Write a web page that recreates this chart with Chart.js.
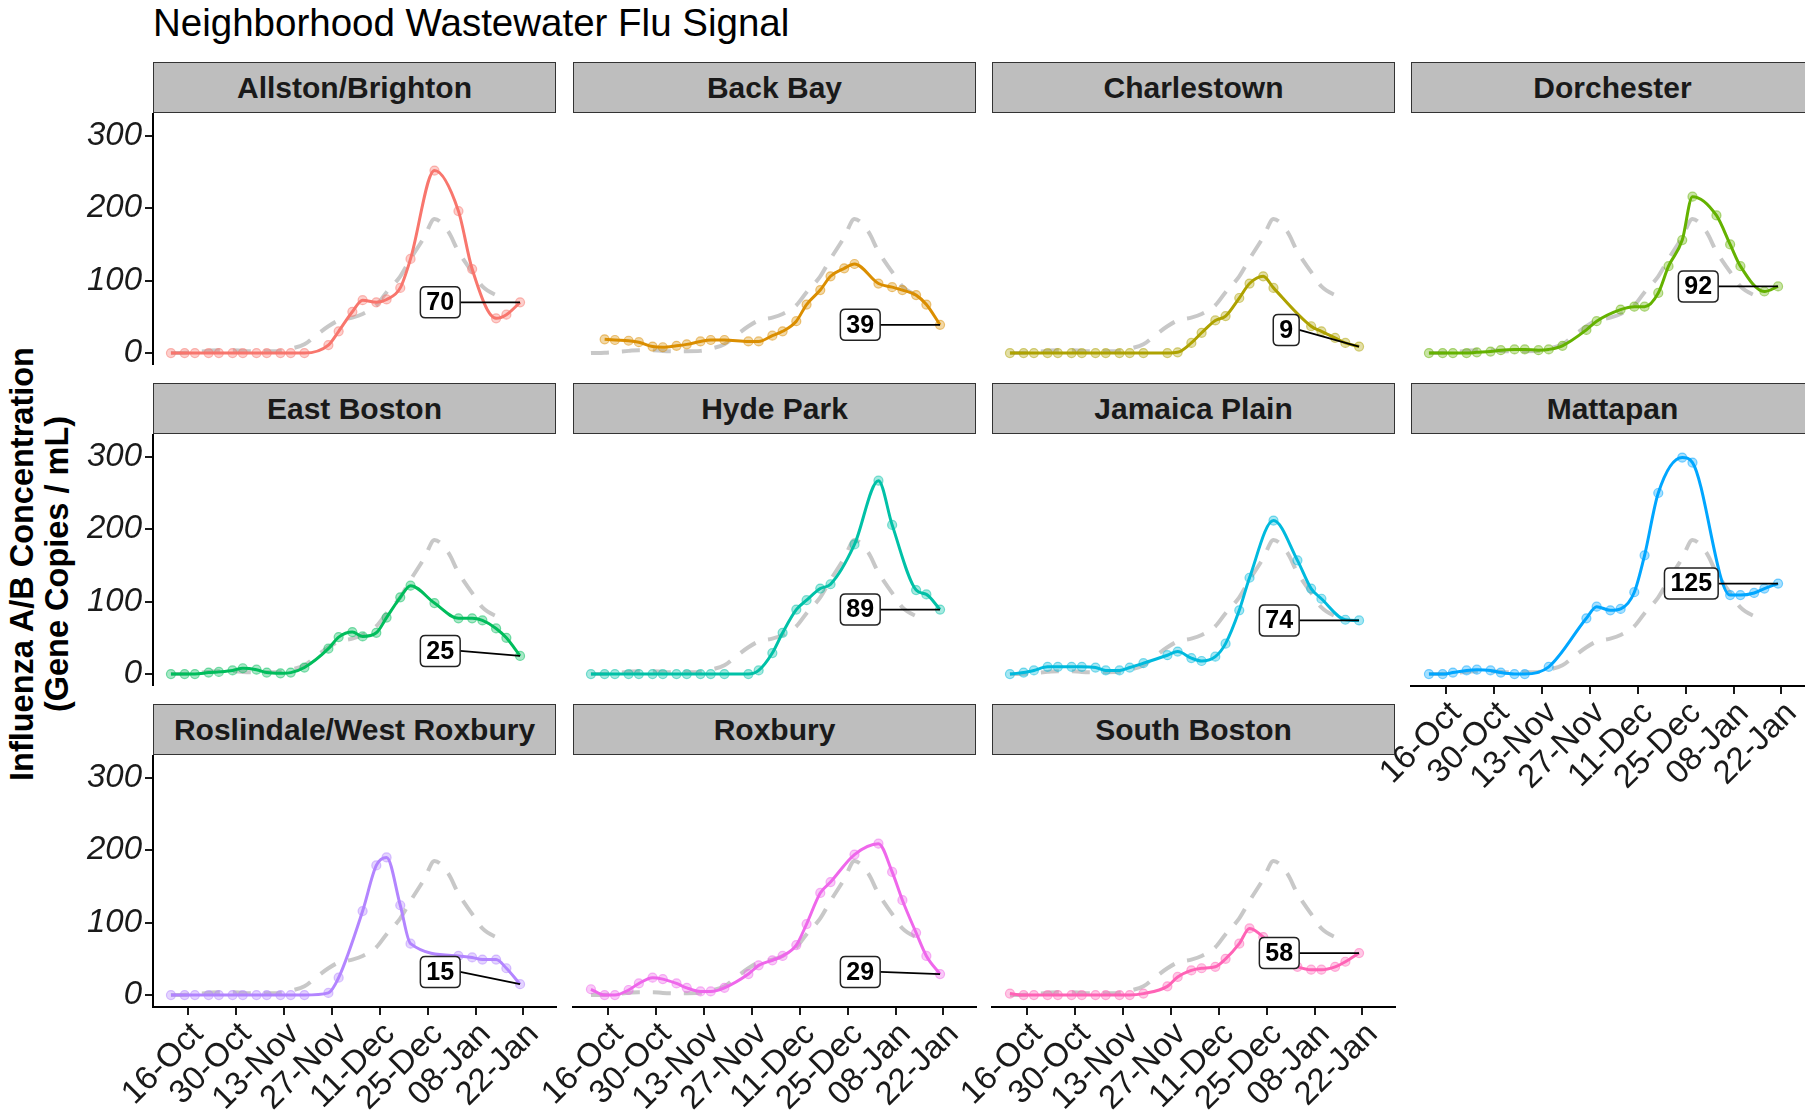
<!DOCTYPE html>
<html>
<head>
<meta charset="utf-8">
<script src="https://cdn.jsdelivr.net/npm/chart.js@4.4.0/dist/chart.umd.min.js"></script>
<style>
  html, body { margin:0; padding:0; background:#fff; }
  body { width:1805px; height:1110px; overflow:hidden; position:relative; font-family:"Liberation Sans", Arial, sans-serif; }
  .title { position:absolute; left:153px; top:4px; font-size:38.5px; line-height:38px; color:#000; white-space:nowrap; }
  .strip { position:absolute; box-sizing:border-box; background:#bebebe; border:1.5px solid #333; font-weight:bold; font-size:30px; color:#1a1a1a; display:flex; align-items:center; justify-content:center; white-space:nowrap; }
  .ytitle { position:absolute; width:640px; height:70px; left:-280px; top:529px; transform:rotate(-90deg); transform-origin:50% 50%; text-align:center; font-weight:bold; font-size:32.5px; line-height:35px; color:#000; white-space:nowrap; }
  canvas { position:absolute; }
</style>
</head>
<body>
<div class="title">Neighborhood Wastewater Flu Signal</div>
<div class="ytitle">Influenza A/B Concentration<br>(Gene Copies / mL)</div>
<script>
// ---------------- DATA ----------------
// sample days, counted in days since 16-Oct
const sampleDay = [-5, -1, 2, 6, 9, 13, 16, 20, 23, 27, 30, 34, 37, 41, 44, 48, 51, 55, 58, 62, 65, 69, 72, 76, 79, 83, 86, 90, 93, 97];
const tickDay = [0, 14, 28, 42, 56, 70, 84, 98];
const tickLabel = ['16-Oct', '30-Oct', '13-Nov', '27-Nov', '11-Dec', '25-Dec', '08-Jan', '22-Jan'];
const yTickValues = [0, 100, 200, 300];

const neighborhoods = ['Allston/Brighton', 'Back Bay', 'Charlestown', 'Dorchester', 'East Boston', 'Hyde Park',
  'Jamaica Plain', 'Mattapan', 'Roslindale/West Roxbury', 'Roxbury', 'South Boston'];

// Boston-wide smoothed signal (dashed grey reference)
const bostonAverage = [0, 0.5, 1.5, 3, 4, 4, 3, 2.5, 2.5, 3, 6, 12, 23, 37, 45, 49, 54, 66, 84, 106, 130, 160, 185, 168, 140, 112, 92, 80, 76, null];

const allstonBrighton = [0, 0, 0, 0, 0, 0, 0, 0, 0, 0, 0, 0, null, 11, 30, 57, 73, 70, 74, 90, 130, null, 252, null, 196, 116, null, 48, 53, 70];
const backBay = [null, 19, 18, 17, 15, 9, 8, 10, 12, 16, 18, 18, null, 16, 16, 24, 30, 44, 67, 87, 106, 117, 123, null, 96, 91, 87, 80, 67, 39];
const charlestown = [0, 0, 0, 0, 0, 0, 0, 0, 0, 0, 0, 0, null, 0, 1, 14, 28, 45, 51, 76, 96, 106, 90, null, null, 37, 30, 21, 14, 9];
const dorchester = [0, 0, 0, 0, 1, 2, 4, 5, 5, 4, 5, 10, null, 32, 44, null, 60, 64, 64, 83, 120, 156, 216, null, 190, 150, 120, null, 85, 92];
const eastBoston = [0, 0, 0, 2, 3, 5, 8, 6, 2, 1, 2, 9, null, 35, 51, 58, 52, 57, 78, 106, 122, null, 98, null, 77, 77, 74, 63, 50, 25];
const hydePark = [0, 0, 0, 0, 0, 0, 0, 0, 0, 0, 0, 0, null, 0, 5, 29, 57, 89, 102, 118, 124, null, 179, null, 267, 206, null, 116, 110, 89];
const jamaicaPlain = [0, 2, 5, 10, 10, 10, 10, 9, 5, 5, 9, 15, null, 26, 31, 22, 18, 24, 42, 88, 133, null, 212, null, 157, 118, 104, null, 75, 74];
const mattapan = [0, 0, 2, 5, 6, 5, 2, 0, 0, null, 10, null, null, 77, 93, 88, 90, 113, 164, 250, null, 299, 292, null, null, 109, 109, 112, 118, 125];
const roslindaleWestRoxbury = [0, 0, 0, 0, 0, 0, 0, 0, 0, 0, 0, 0, null, 3, 24, null, 116, 179, 190, 124, 71, null, null, null, 54, 52, 49, 49, 37, 15];
const roxbury = [8, 0, 0, 7, 16, 24, 22, 16, 10, 5, 5, 10, null, 29, 41, 48, 54, 69, 98, 141, 156, null, 194, null, 209, 170, 131, 86, 54, 29];
const southBoston = [2, 0, 0, 0, 0, 0, 0, 0, 0, 0, 0, 2, null, 12, 25, 34, 37, 39, 50, 71, 92, 80, 62, 45, 39, 35, 35, 39, 46, 58];

const seriesValues = [allstonBrighton, backBay, charlestown, dorchester, eastBoston, hydePark,
  jamaicaPlain, mattapan, roslindaleWestRoxbury, roxbury, southBoston];

// ---------------- STYLE / LAYOUT ----------------
const colors = ['#F8766D', '#DB8E00', '#AEA200', '#64B200', '#00BD5C', '#00C1A7',
  '#00BADE', '#00A6FF', '#B385FF', '#EF67EB', '#FF63B6'];
const FONT = '"Liberation Sans", Arial, sans-serif';
const COL_L = [153, 573, 992, 1411];
const ROW_T = [113, 434, 755];
const PW = 403, PH = 252, STRIP_H = 51, X_AXIS_H = 110;
const X_MIN = -10.24, X_MAX = 107.5, Y_MIN = -16.5, Y_MAX = 331.5;
const LABEL_RIGHT_DAY = 79.5, LABEL_MIN_Y = 32;

function rgba(hex, a) {
  const n = parseInt(hex.slice(1), 16);
  return `rgba(${(n >> 16) & 255},${(n >> 8) & 255},${n & 255},${a})`;
}

const endLabelPlugin = {
  id: 'endLabel',
  afterDatasetsDraw(chart, args, opts) {
    if (opts.value == null) return;
    const { ctx } = chart;
    const x = chart.scales.x, y = chart.scales.y;
    const px = x.getPixelForValue(opts.day), py = y.getPixelForValue(opts.value);
    const ly = y.getPixelForValue(Math.max(opts.value, LABEL_MIN_Y));
    const right = x.getPixelForValue(LABEL_RIGHT_DAY);
    ctx.save();
    ctx.font = 'bold 25px ' + FONT;
    const text = String(Math.round(opts.value));
    const tw = ctx.measureText(text).width;
    const bw = tw + 12, bh = 31;
    const left = right - bw, top = ly - bh / 2;
    ctx.strokeStyle = '#000';
    ctx.lineWidth = 1.8;
    ctx.beginPath();
    ctx.moveTo(right, ly);
    ctx.lineTo(px, py);
    ctx.stroke();
    const rr = 5;
    ctx.beginPath();
    ctx.moveTo(left + rr, top);
    ctx.lineTo(left + bw - rr, top);
    ctx.quadraticCurveTo(left + bw, top, left + bw, top + rr);
    ctx.lineTo(left + bw, top + bh - rr);
    ctx.quadraticCurveTo(left + bw, top + bh, left + bw - rr, top + bh);
    ctx.lineTo(left + rr, top + bh);
    ctx.quadraticCurveTo(left, top + bh, left, top + bh - rr);
    ctx.lineTo(left, top + rr);
    ctx.quadraticCurveTo(left, top, left + rr, top);
    ctx.closePath();
    ctx.fillStyle = '#fff';
    ctx.fill();
    ctx.lineWidth = 1.5;
    ctx.strokeStyle = '#222';
    ctx.stroke();
    ctx.fillStyle = '#000';
    ctx.textAlign = 'center';
    ctx.textBaseline = 'middle';
    ctx.fillText(text, left + bw / 2, ly + 1);
    ctx.restore();
  }
};
Chart.register(endLabelPlugin);

neighborhoods.forEach((name, i) => {
  const r = Math.floor(i / 4), c = i % 4;
  const hasY = c === 0;
  const hasX = r === 2 || (r === 1 && c === 3);

  const strip = document.createElement('div');
  strip.className = 'strip';
  strip.textContent = name;
  strip.style.left = COL_L[c] + 'px';
  strip.style.top = (ROW_T[r] - STRIP_H) + 'px';
  strip.style.width = PW + 'px';
  strip.style.height = STRIP_H + 'px';
  document.body.appendChild(strip);

  const padL = hasY ? 0 : (hasX ? 130 : 0);
  const padR = hasX ? 12 : 0;
  const left = hasY ? 0 : COL_L[c] - padL;
  const width = (hasY ? COL_L[0] : padL) + PW + padR;
  const height = PH + (hasX ? X_AXIS_H : 0);

  const cv = document.createElement('canvas');
  cv.width = width; cv.height = height;
  cv.style.left = left + 'px';
  cv.style.top = ROW_T[r] + 'px';
  cv.style.width = width + 'px';
  cv.style.height = height + 'px';
  document.body.appendChild(cv);

  const vals = seriesValues[i];
  const pts = sampleDay.map((d, k) => ({ x: d, y: vals[k] }));
  const avg = sampleDay.map((d, k) => ({ x: d, y: bostonAverage[k] }));
  let lastIdx = vals.length - 1;
  while (lastIdx >= 0 && vals[lastIdx] == null) lastIdx--;

  new Chart(cv, {
    type: 'line',
    data: {
      datasets: [
        { data: pts, showLine: false, order: 0, pointRadius: 4.5, pointHoverRadius: 4.5,
          pointBackgroundColor: rgba(colors[i], 0.35), pointBorderColor: rgba(colors[i], 0.5), pointBorderWidth: 1.2 },
        { data: pts, order: 1, borderColor: colors[i], borderWidth: 3, pointRadius: 0, spanGaps: true,
          cubicInterpolationMode: 'monotone', fill: false },
        { data: avg, order: 2, borderColor: '#c8c8c8', borderWidth: 4, borderDash: [18, 13], pointRadius: 0,
          spanGaps: true, cubicInterpolationMode: 'monotone', fill: false }
      ]
    },
    options: {
      responsive: false,
      animation: false,
      events: [],
      layout: { autoPadding: false, padding: { left: padL, right: padR, top: 0, bottom: 0 } },
      plugins: {
        legend: { display: false },
        tooltip: { enabled: false },
        endLabel: { day: sampleDay[lastIdx], value: vals[lastIdx] }
      },
      scales: {
        x: {
          type: 'linear', min: X_MIN, max: X_MAX, display: hasX,
          afterBuildTicks: s => { s.ticks = tickDay.map(v => ({ value: v })); },
          afterFit: s => { s.height = hasX ? X_AXIS_H : 0; s.paddingLeft = 0; s.paddingRight = 0; s.paddingTop = 0; s.paddingBottom = 0; },
          ticks: { autoSkip: false, minRotation: 45, maxRotation: 45, padding: 0, labelOffset: 10, color: '#1a1a1a',
            font: { family: FONT, size: 33 },
            callback: v => { const k = tickDay.indexOf(v); return k >= 0 ? tickLabel[k] : ''; } },
          grid: { display: true, drawOnChartArea: false, drawTicks: true, tickLength: 8, color: '#1a1a1a', lineWidth: 2 },
          border: { display: true, color: '#000', width: 2 }
        },
        y: {
          type: 'linear', min: Y_MIN, max: Y_MAX, display: hasY,
          afterBuildTicks: s => { s.ticks = yTickValues.map(v => ({ value: v })); },
          afterFit: s => { s.width = hasY ? COL_L[0] : 0; s.paddingTop = 0; s.paddingBottom = 0; s.paddingLeft = 0; s.paddingRight = 0; },
          ticks: { padding: 3, color: '#1a1a1a', font: { family: FONT, size: 33, style: 'italic' } },
          grid: { display: true, drawOnChartArea: false, drawTicks: true, tickLength: 8, color: '#1a1a1a', lineWidth: 2 },
          border: { display: true, color: '#000', width: 2 }
        }
      }
    }
  });
});
</script>
</body>
</html>
